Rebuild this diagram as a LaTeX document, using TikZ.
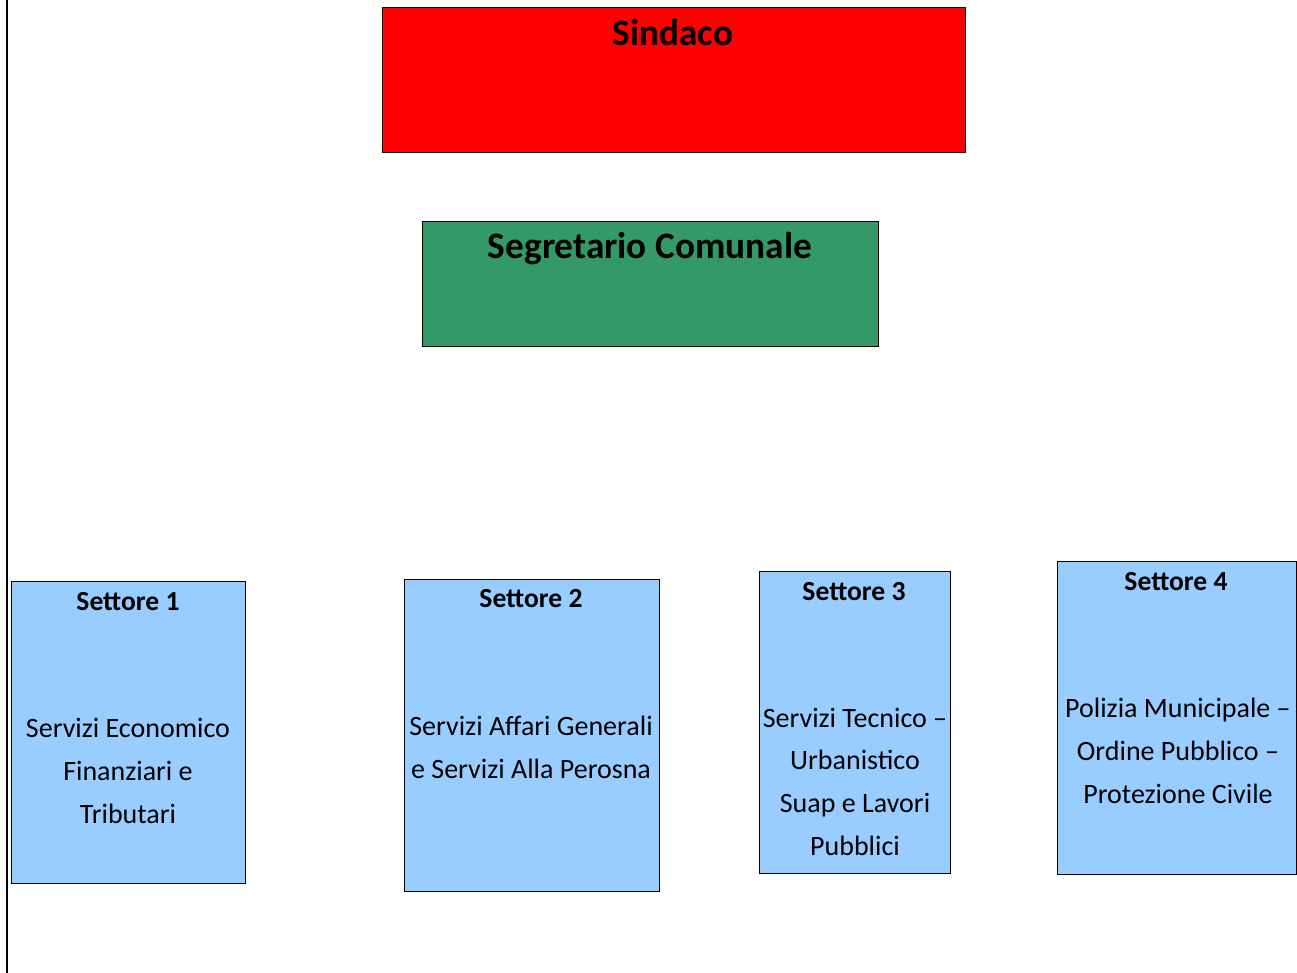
\documentclass[tikz,border=0pt]{standalone}
\usepackage{fontspec}
\setmainfont{Carlito}
\definecolor{sred}{HTML}{FF0000}
\definecolor{sgreen}{HTML}{339966}
\definecolor{sblue}{HTML}{99CCFF}
\tikzset{
  ttl/.style={font=\fontsize{28}{34}\selectfont\bfseries, anchor=base, inner sep=0pt},
  sect/.style={font=\fontsize{20.7}{25}\selectfont\bfseries, anchor=base, inner sep=0pt},
  body/.style={font=\fontsize{21}{31.9}\selectfont, align=center, anchor=base, inner sep=0pt},
  boxline/.style={draw=black, line width=0.75pt},
}
\begin{document}
\begin{tikzpicture}[x=0.75pt,y=-0.75pt]
\useasboundingbox (0,0) rectangle (1297,973);
\draw[line width=1.5pt] (7,0) coordinate (lt) -- (7,973) coordinate (lb);
% Sindaco
\filldraw[fill=sred, boxline] (382,8) rectangle (965,153);
\node[ttl] (sind) at (673,46) {Sindaco};
% Segretario
\filldraw[fill=sgreen, boxline] (422,222) rectangle (878,347);
\node[ttl] (segr) at (650,259) {Segretario Comunale};
% Settori
\filldraw[fill=sblue, boxline] (11,582) rectangle (245,883);
\node[sect] (s1) at (128,610) {Settore 1};
\node[body] (b1) at (128,823) {Servizi Economico\\Finanziari e\\Tributari};
\filldraw[fill=sblue, boxline] (404,580) rectangle (659,891);
\node[sect] (s2) at (531,608) {Settore 2};
\node[body] (b2) at (531,778) {Servizi Affari Generali\\e Servizi Alla Perosna};
\filldraw[fill=sblue, boxline] (759,572) rectangle (950,873);
\node[sect] (s3) at (854,600) {Settore 3};
\node[body] (b3) at (855,855) {Servizi Tecnico –\\Urbanistico\\Suap e Lavori\\Pubblici};
\filldraw[fill=sblue, boxline] (1057,562) rectangle (1296,874);
\node[sect] (s4) at (1176,590) {Settore 4};
\node[body] (b4) at (1178,803) {Polizia Municipale –\\Ordine Pubblico –\\Protezione Civile};
\end{tikzpicture}
\end{document}
